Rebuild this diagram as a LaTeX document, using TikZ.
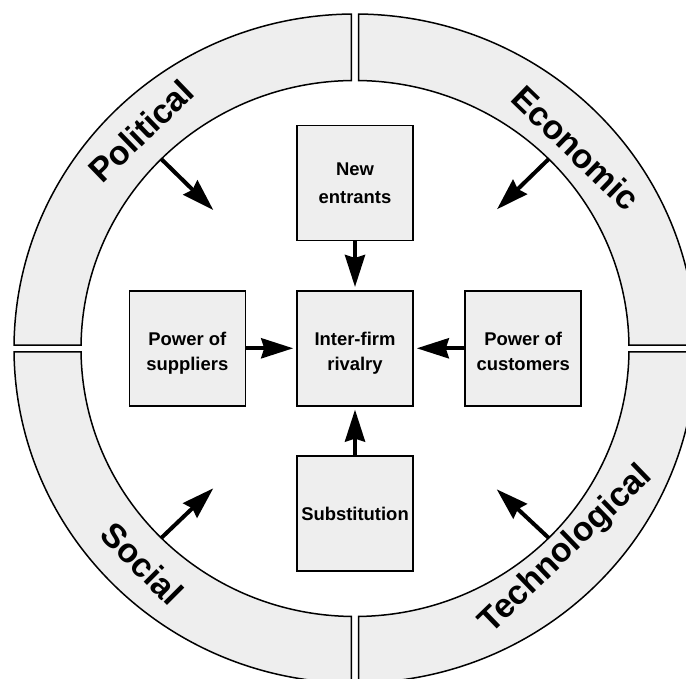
\documentclass[tikz,border=0pt]{standalone}
\usepackage{fontspec}
\setmainfont{Liberation Sans}
\usetikzlibrary{arrows.meta,calc}
\definecolor{lightfill}{HTML}{EEEEEE}
\newcommand{\topstrut}{\rule{0pt}{19.5bp}}
\tikzset{
  box/.style={draw=black, line width=1.6bp, fill=lightfill, minimum width=116bp, minimum height=115bp, align=center, font=\fontsize{18.5}{25}\selectfont\bfseries, inner sep=0pt},
  flow/.style={line width=4bp, -{Stealth[length=32bp,width=20bp,inset=3bp]}},
  ringpiece/.style={draw=black, line width=1.5bp, fill=lightfill},
  ringlabel/.style={font=\fontsize{34}{40}\selectfont\bfseries, inner sep=0pt}
}
\begin{document}
\begin{tikzpicture}[x=1bp,y=1bp]
\useasboundingbox (0,0) rectangle (686,679);
\clip (0,0) rectangle (686,679);
\coordinate (C) at (355,330.5);
\foreach \a in {0,90,180,270} {
  \draw[ringpiece] ($(C)+(\a+0.59:341bp and 334.5bp)$)
    arc[start angle=\a+0.59, end angle=\a+89.41, x radius=341bp, y radius=334.5bp]
    -- ($(C)+(\a+89.26:274bp and 268bp)$)
    arc[start angle=\a+89.26, end angle=\a+0.74, x radius=274bp, y radius=268bp]
    -- cycle;
}
\node[box, font=\fontsize{18.5}{28}\selectfont\bfseries] (ne) at (355,496) {New\\entrants};
\node[box] (sup) at (187.3,330.7) {\topstrut Power of\\\smash{suppliers}};
\node[box] (riv) at (355,330.7) {\topstrut Inter-firm\\\smash{rivalry}};
\node[box] (cus) at (523.2,330.7) {\topstrut Power of\\\smash{customers}};
\node[box] (sub) at (355,165.2) {Substitution};

\draw[flow, shorten >=3bp] (ne.south) -- (riv.north);
\draw[flow, shorten >=3bp] (sup.east) -- (riv.west);
\draw[flow, shorten >=3bp] (cus.west) -- (riv.east);
\draw[flow, shorten >=3bp] (sub.north) -- (riv.south);

\coordinate (pS) at ($(C)+(135:274bp and 268bp)$);
\coordinate (pE) at ($(C)+(-141.7,138.5)$);
\coordinate (eS) at ($(C)+(45:274bp and 268bp)$);
\coordinate (eE) at ($(C)+(142,139.2)$);
\coordinate (sS) at ($(C)+(225:274bp and 268bp)$);
\coordinate (sE) at ($(C)+(-141.7,-139.8)$);
\coordinate (tS) at ($(C)+(315:274bp and 268bp)$);
\coordinate (tE) at ($(C)+(141.7,-140.8)$);
\draw[flow] (pS) -- (pE);
\draw[flow] (eS) -- (eE);
\draw[flow] (sS) -- (sE);
\draw[flow] (tS) -- (tE);

\node[ringlabel, rotate=44] (lp) at ($(C)+(-214,217.5)$) {Political};
\node[ringlabel, rotate=-44] (le) at ($(C)+(221,200.5)$) {Economic};
\node[ringlabel, rotate=-45] (ls) at ($(C)+(-213,-215)$) {Social};
\node[ringlabel, rotate=44] (lt) at ($(C)+(211,-201.5)$) {Technological};
\end{tikzpicture}
\end{document}
